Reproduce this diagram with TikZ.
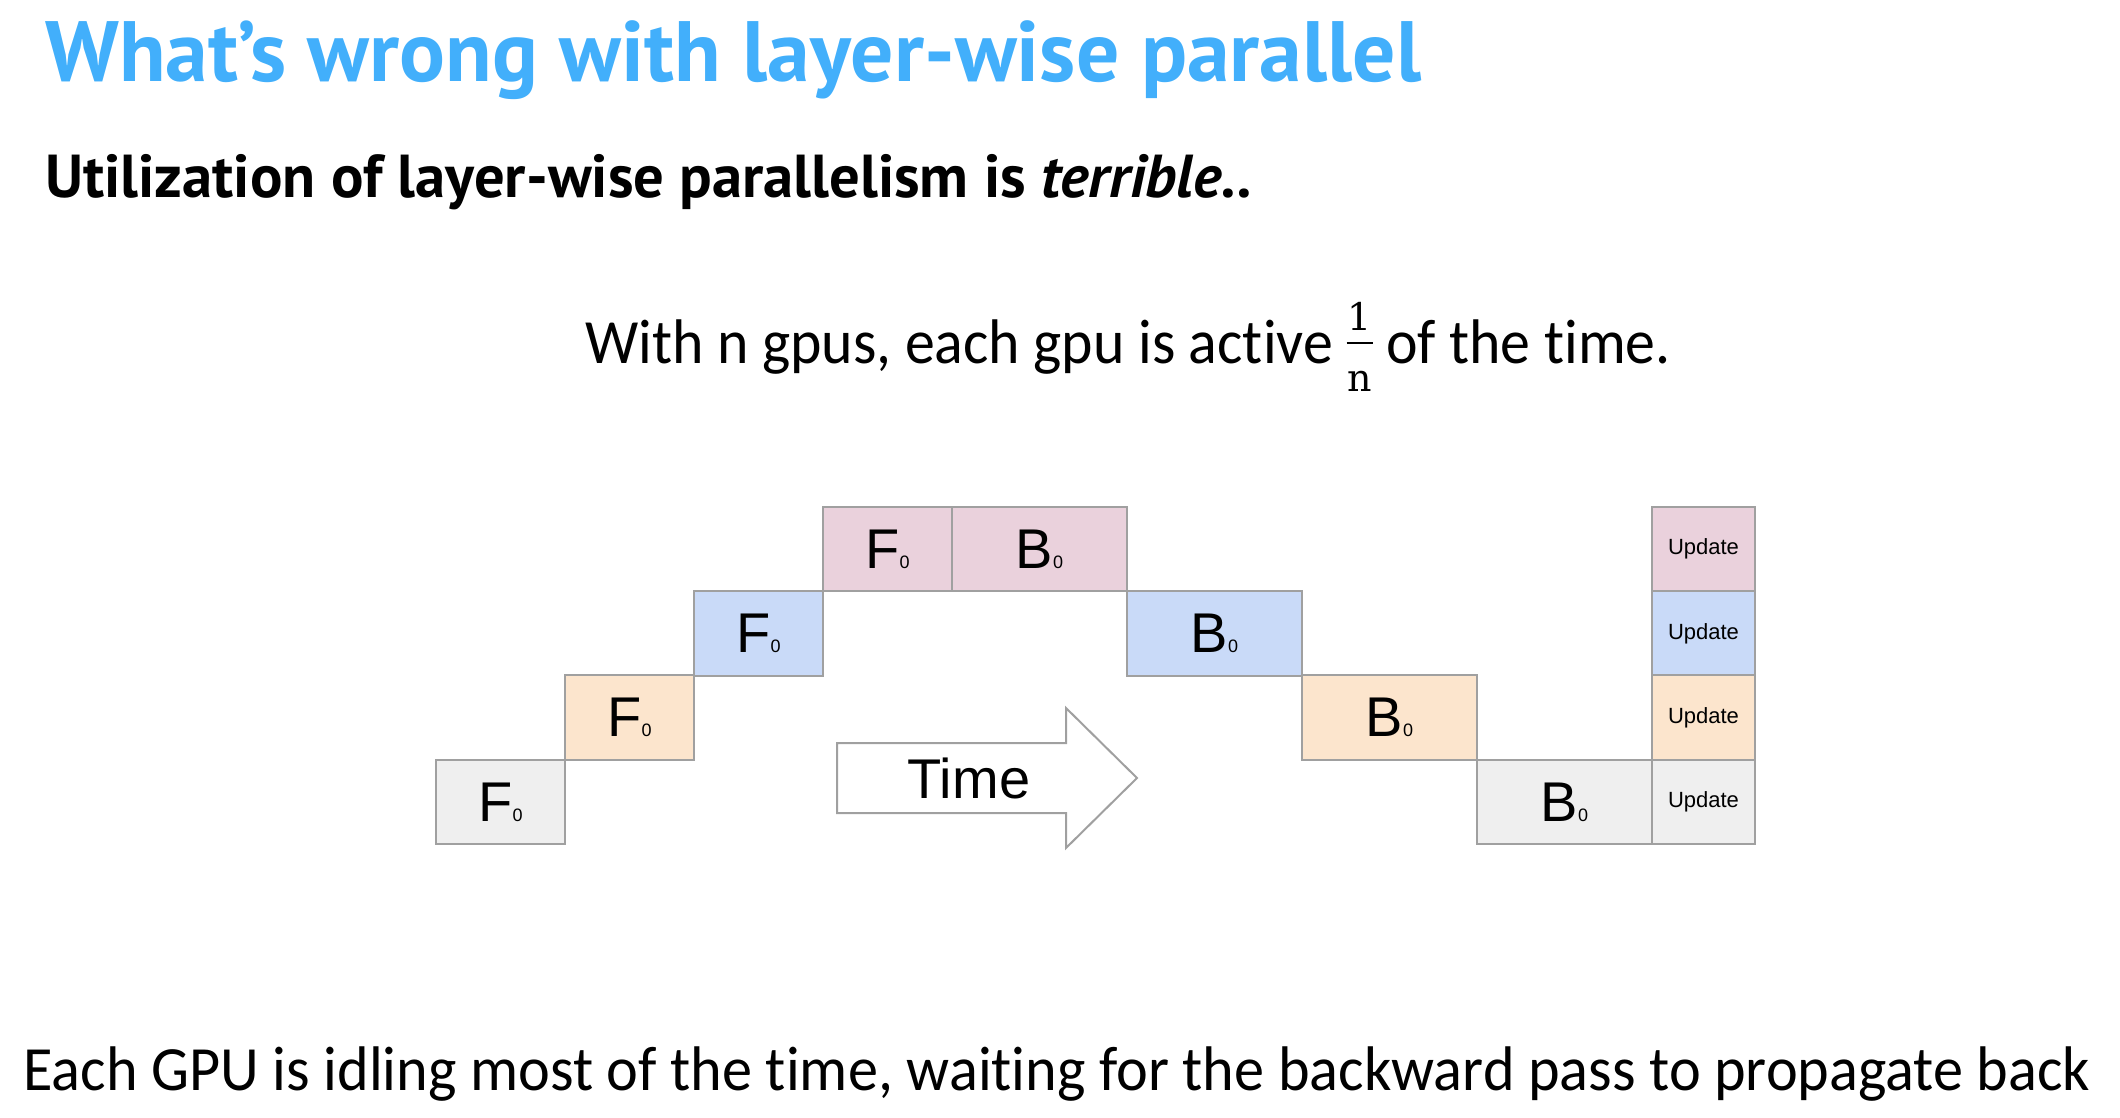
\documentclass[tikz,border=0pt]{standalone}
\usepackage{fontspec}
\usepackage{tikz}
\usetikzlibrary{arrows, shapes}

\setmainfont{Carlito}[Ligatures=CommonOff]
\newfontfamily\notefont{Carlito}[Ligatures=CommonOff, FakeStretch=0.95]
\newfontfamily\captionfont{Carlito}[Ligatures=CommonOff, FakeStretch=0.956]
\newfontfamily\titlefont{PT Sans}
\newfontfamily\boxfont{Liberation Sans}
\newfontfamily\fracfont{DejaVu Serif}

\definecolor{gpugray}{HTML}{EFEFEF}
\definecolor{gpuorange}{HTML}{FCE5CD}
\definecolor{gpublue}{HTML}{C9DAF8}
\definecolor{gpupink}{HTML}{EAD1DC}
\definecolor{edgegray}{HTML}{A0A0A0}
\definecolor{titleblue}{HTML}{42AFFB}

\newcommand{\passlabel}[1]{#1{\fontsize{9}{9}\selectfont 0}}
\newcommand{\onegpu}{{\fracfont\fontsize{19}{19}\selectfont
  \ooalign{\hfil\raisebox{16.5pt}{1}\hfil\cr
    \hfil\raisebox{-14pt}{n}\hfil\cr
    \rule[9.6pt]{13pt}{0.7pt}\cr}}}

\begin{document}
\begin{tikzpicture}[
    x=0.5pt, y=-0.5pt,
    fwdbox/.style={shape=rectangle, draw=edgegray, line width=1pt, inner sep=0pt, minimum width=64.5pt, minimum height=42.125pt, font=\boxfont\fontsize{28}{28}\selectfont},
    bwdbox/.style={fwdbox, minimum width=87.5pt},
    updbox/.style={fwdbox, minimum width=51.5pt, font=\boxfont\fontsize{11}{11}\selectfont},
    timearrow/.style={draw=edgegray, line width=1pt, fill=white},
]
\useasboundingbox (0, 0) rectangle (2120, 1118);

\node[anchor=base west, inner sep=0pt, text=titleblue, font=\titlefont\bfseries\fontsize{42.8}{42.8}\selectfont] (title) at (45, 82) {What’s wrong with layer-wise parallel};
\node[anchor=base west, inner sep=0pt, font=\titlefont\bfseries\fontsize{30.3}{30.3}\selectfont] (sub) at (45, 198) {Utilization of layer-wise parallelism is \textit{terrible..}};
\node[anchor=base, inner sep=0pt, font=\notefont\fontsize{31.5}{31.5}\selectfont] (note) at (1128, 363) {With n gpus, each gpu is active \onegpu\ of the time.};

\node[fwdbox, fill=gpugray] (f1) at (500.5, 801.9) {\passlabel{F}};
\node[fwdbox, fill=gpuorange] (f2) at (629.5, 717.6) {\passlabel{F}};
\node[fwdbox, fill=gpublue] (f3) at (758.5, 633.4) {\passlabel{F}};
\node[fwdbox, fill=gpupink] (f4) at (887.5, 549.1) {\passlabel{F}};
\node[bwdbox, fill=gpupink] (b4) at (1039.5, 549.1) {\passlabel{B}};
\node[bwdbox, fill=gpublue] (b3) at (1214.5, 633.4) {\passlabel{B}};
\node[bwdbox, fill=gpuorange] (b2) at (1389.5, 717.6) {\passlabel{B}};
\node[bwdbox, fill=gpugray] (b1) at (1564.5, 801.9) {\passlabel{B}};
\node[updbox, fill=gpupink] (u4) at (1703.5, 549.1) {Update};
\node[updbox, fill=gpublue] (u3) at (1703.5, 633.4) {Update};
\node[updbox, fill=gpuorange] (u2) at (1703.5, 717.6) {Update};
\node[updbox, fill=gpugray] (u1) at (1703.5, 801.9) {Update};

\draw[timearrow] (837, 743) -- (1066, 743) -- (1066, 708) -- (1137, 778) -- (1066, 848) -- (1066, 813) -- (837, 813) -- cycle;
\node[anchor=base, inner sep=0pt, font=\boxfont\fontsize{28}{28}\selectfont] (time) at (969, 798) {Time};

\node[anchor=base west, inner sep=0pt, font=\captionfont\fontsize{31.5}{31.5}\selectfont] (caption) at (23, 1090) {Each GPU is idling most of the time, waiting for the backward pass to propagate back};
\end{tikzpicture}
\end{document}
